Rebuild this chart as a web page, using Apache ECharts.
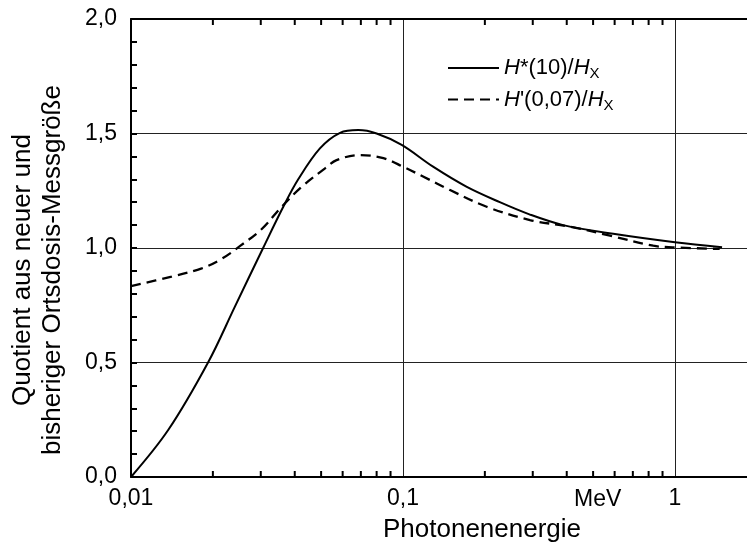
<!DOCTYPE html>
<html>
<head>
<meta charset="utf-8">
<script src="https://cdn.jsdelivr.net/npm/echarts@6/dist/echarts.min.js"></script>
<style>html,body{margin:0;padding:0;background:#fff}#c{width:747px;height:547px}</style>
</head>
<body>
<div id="c"></div>
<script>
// Photon energy (MeV) and quotients
const energyStar = [0.01, 0.0137, 0.0192, 0.0241, 0.0306, 0.0363, 0.0412, 0.0495, 0.0587, 0.0685, 0.080, 0.0989, 0.129, 0.171, 0.227, 0.29, 0.388, 0.593, 1.0, 1.49];
const hStar10   = [0.0, 0.205, 0.50, 0.744, 1.0, 1.18, 1.30, 1.435, 1.503, 1.515, 1.50, 1.45, 1.355, 1.268, 1.200, 1.148, 1.10, 1.062, 1.025, 1.003];
const energyPrime = [0.01, 0.0141, 0.0182, 0.0215, 0.0252, 0.0302, 0.0358, 0.0425, 0.0517, 0.057, 0.0695, 0.0847, 0.1, 0.119, 0.149, 0.203, 0.293, 0.411, 0.577, 0.832, 0.98, 1.46];
const hPrime007   = [0.834, 0.875, 0.911, 0.952, 1.009, 1.082, 1.18, 1.268, 1.348, 1.384, 1.406, 1.392, 1.355, 1.311, 1.253, 1.18, 1.122, 1.093, 1.054, 1.01, 1.003, 0.996];
const minorTicksX = [0.02, 0.03, 0.04, 0.05, 0.06, 0.07, 0.08, 0.09, 0.2, 0.3, 0.4, 0.5, 0.6, 0.7, 0.8, 0.9];
const unitLabel = ['MeV', 0.52];
const seriesNames = ['H*(10)/Hx', "H'(0,07)/Hx"];
const xMin = 0.01, xMax = 1.84, yMin = 0, yMax = 2;

const FONT = 'Liberation Sans, Arial, sans-serif';
const chart = echarts.init(document.getElementById('c'), null, {renderer: 'canvas'});

function pair(xs, ys) { return xs.map((x, i) => [x, ys[i]]); }

const legendRich = {
  i: {fontStyle: 'italic', fontSize: 22, fontFamily: FONT, color: '#000'},
  n: {fontSize: 22, fontFamily: FONT, color: '#000'},
  s: {fontSize: 15, fontFamily: FONT, color: '#000', padding: [12, 0, 0, 0]}
};

const option = {
  animation: false,
  backgroundColor: '#fff',
  textStyle: {fontFamily: FONT},
  grid: {left: 131, top: 19, right: 0, bottom: 70},
  legend: {
    data: seriesNames,
    orient: 'vertical',
    left: 442, top: 52,
    itemWidth: 51, itemHeight: 16, itemGap: 7,
    itemStyle: {opacity: 0},
    textStyle: {rich: legendRich, fontSize: 22},
    formatter: function (name) {
      if (name === seriesNames[0]) return '{i|H}{n|*(10)/}{i|H}{s|X}';
      return "{i|H}{n|'(0,07)/}{i|H}{s|X}";
    }
  },
  xAxis: [{
    type: 'log', logBase: 10, min: xMin, max: xMax,
    axisLine: {show: true, lineStyle: {color: '#000', width: 2}},
    axisTick: {show: false},
    axisLabel: {
      color: '#000', fontSize: 23, fontFamily: FONT, margin: 10, showMaxLabel: false,
      formatter: v => String(+v.toPrecision(6)).replace('.', ',')
    },
    splitLine: {show: true, lineStyle: {color: '#222', width: 1}}
  }, {
    type: 'log', logBase: 10, min: xMin, max: xMax, position: 'top',
    axisLine: {show: true, lineStyle: {color: '#000', width: 2}},
    axisTick: {show: false}, axisLabel: {show: false}, splitLine: {show: false}
  }],
  yAxis: {
    type: 'value', min: yMin, max: yMax, interval: 0.5,
    axisLine: {show: true, lineStyle: {color: '#000', width: 2}},
    axisTick: {show: true, inside: true, length: 6, lineStyle: {color: '#000', width: 2}},
    minorTick: {show: true, splitNumber: 5, length: 6, lineStyle: {color: '#000', width: 2}},
    axisLabel: {color: '#000', fontSize: 23, fontFamily: FONT, margin: 14,
      formatter: v => v.toFixed(1).replace('.', ',')},
    splitLine: {show: true, lineStyle: {color: '#222', width: 1}}
  },
  series: [
    {
      name: seriesNames[0], type: 'line', data: pair(energyStar, hStar10),
      smooth: 0.35, symbol: 'none', showSymbol: false,
      lineStyle: {color: '#000', width: 2, type: 'solid'}, itemStyle: {color: '#000'}
    },
    {
      name: seriesNames[1], type: 'line', data: pair(energyPrime, hPrime007),
      smooth: 0.35, symbol: 'none', showSymbol: false,
      lineStyle: {color: '#000', width: 2.3, type: [10, 6]}, itemStyle: {color: '#000'}
    },
    {
      type: 'custom', silent: true, clip: false,
      data: minorTicksX.map(v => [v, 0]),
      encode: {x: 0, y: 1},
      renderItem: function (params, api) {
        const v = api.value(0);
        const b = api.coord([v, yMin]);
        const t = api.coord([v, yMax]);
        return {type: 'group', children: [
          {type: 'line', shape: {x1: b[0], y1: b[1], x2: b[0], y2: b[1] - 6}, style: {stroke: '#000', lineWidth: 2}},
          {type: 'line', shape: {x1: t[0], y1: t[1], x2: t[0], y2: t[1] + 6}, style: {stroke: '#000', lineWidth: 2}}
        ]};
      }
    },
    {
      type: 'custom', silent: true, clip: false,
      data: [[unitLabel[1], 0]],
      encode: {x: 0, y: 1},
      renderItem: function (params, api) {
        const p = api.coord([api.value(0), yMin]);
        return {type: 'text', x: p[0], y: p[1] + 11,
          style: {text: unitLabel[0], fill: '#000', font: '23px ' + FONT, textAlign: 'center', textVerticalAlign: 'top'}};
      }
    }
  ],
  graphic: [
    {type: 'text', x: 482, y: 530, style: {text: 'Photonenenergie', fill: '#000', font: '26px ' + FONT, textAlign: 'center', textVerticalAlign: 'middle'}},
    {type: 'text', x: 38, y: 270, rotation: Math.PI / 2,
     style: {text: 'Quotient aus neuer und\nbisheriger Ortsdosis-Messgröße', fill: '#000', font: '26px ' + FONT, lineHeight: 30, textAlign: 'center', textVerticalAlign: 'middle'}}
  ]
};
chart.setOption(option);
</script>
</body>
</html>
